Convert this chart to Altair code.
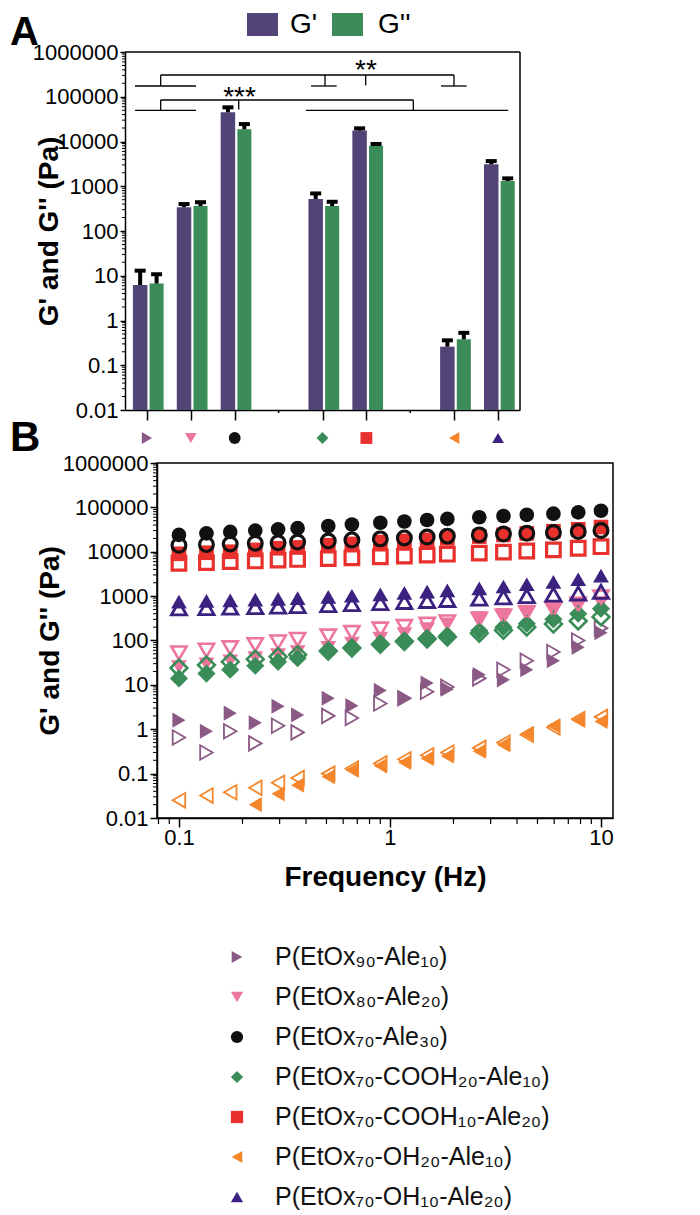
import altair as alt
import pandas as pd

# ---------------- Panel A : bar chart (Pa) ----------------
cat_pos = [0, 1, 2, 4, 5, 7, 8]
cat_shape = ["triangle-right", "triangle-down", "circle", "diamond", "square", "triangle-left", "triangle-up"]
cat_color = ["#8b5a84", "#ec769c", "#111111", "#3a8c58", "#e8302c", "#f5862b", "#3b2180"]
gp_mean = [6.2, 340, 45000, 520, 17500, 0.26, 3100]
gp_upper = [13, 400, 58000, 690, 19700, 0.36, 3650]
gpp_mean = [6.7, 360, 18700, 360, 8000, 0.38, 1310]
gpp_upper = [10.8, 440, 24500, 450, 8800, 0.53, 1500]
empty_slots = [3, 6]

# significance brackets (category units, Pa)
br_x1 = [0.313, 0.313, 4.057, 4.984, 6.996, -0.272, 3.738, 6.700, 0.313, 0.313, 2.091, 6.069, -0.272, 3.624]
br_x2 = [6.996, 0.313, 4.057, 4.984, 6.996, 1.118, 4.323, 7.285, 6.069, 0.313, 2.091, 6.069, 1.118, 8.233]
br_y1 = [3.06e5, 3.06e5, 3.06e5, 3.06e5, 3.06e5, 1.74e5, 1.74e5, 1.74e5, 8.46e4, 8.46e4, 8.46e4, 8.46e4, 4.98e4, 4.98e4]
br_y2 = [3.06e5, 1.74e5, 1.74e5, 1.80e5, 1.74e5, 1.74e5, 1.74e5, 1.74e5, 8.46e4, 4.98e4, 5.2e4, 4.98e4, 4.98e4, 4.98e4]
sig_text = ["**", "***"]
sig_x = [4.99, 2.11]
sig_y = [2.49e5, 6.21e4]

# ---------------- Panel B : frequency sweep ----------------
samples = ["P(EtOx₉₀-Ale₁₀)", "P(EtOx₈₀-Ale₂₀)", "P(EtOx₇₀-Ale₃₀)", "P(EtOx₇₀-COOH₂₀-Ale₁₀)",
           "P(EtOx₇₀-COOH₁₀-Ale₂₀)", "P(EtOx₇₀-OH₂₀-Ale₁₀)", "P(EtOx₇₀-OH₁₀-Ale₂₀)"]
freq = [0.1, 0.135, 0.175, 0.23, 0.295, 0.365, 0.51, 0.66, 0.9, 1.17, 1.5, 1.87, 2.65, 3.45, 4.45, 5.95, 7.8, 10.0]

gp_s1 = [1.6, 0.9, 2.3, 1.4, 3.3, 2.1, 5.0, 3.4, 7.5, 5.0, 11, 8, 17, 13, 22, 35, 70, 150]
gpp_s1 = [0.65, 0.3, 0.9, 0.48, 1.2, 0.85, 2.0, 1.8, 3.8, 5.0, 7.0, 9.0, 14, 22, 35, 55, 100, 190]
gp_s2 = [25, 29, 34, 40, 47, 55, 68, 85, 110, 140, 180, 230, 320, 380, 450, 520, 600, 700]
gpp_s2 = [52, 60, 68, 80, 92, 105, 125, 150, 180, 205, 230, 260, 300, 350, 420, 500, 650, 950]
gp_s3 = [24000, 26000, 28000, 30000, 32000, 34000, 38000, 41000, 45000, 48000, 52000, 55000, 60000, 64000, 68000, 72000, 77000, 84000]
gpp_s3 = [14000, 14500, 15000, 15500, 16000, 16500, 17500, 18500, 19500, 20500, 21500, 22500, 24000, 25000, 26000, 27000, 28500, 30000]
gp_s4 = [14, 18, 22, 27, 33, 40, 55, 68, 85, 100, 115, 130, 165, 200, 240, 300, 400, 520]
gpp_s4 = [24, 28, 33, 38, 43, 48, 58, 68, 82, 95, 108, 120, 145, 170, 200, 235, 275, 340]
gp_s5 = [9000, 9500, 10000, 11000, 12000, 12500, 14000, 15000, 16500, 17500, 18500, 20000, 22000, 24000, 26000, 29000, 32000, 36000]
gpp_s5 = [5500, 5700, 6000, 6200, 6500, 6700, 7000, 7300, 7700, 8000, 8400, 8800, 9300, 9800, 10400, 11000, 12000, 13000]
gp_s6 = [None, None, None, 0.02, 0.035, 0.055, 0.085, 0.12, 0.15, 0.18, 0.22, 0.25, 0.32, 0.45, 0.8, 1.2, 1.6, 1.5]
gpp_s6 = [0.025, 0.032, 0.038, 0.048, 0.062, 0.08, 0.1, 0.13, 0.17, 0.21, 0.26, 0.3, 0.38, 0.5, 0.75, 1.1, 1.7, 1.9]
gp_s7 = [750, 780, 800, 830, 870, 900, 960, 1020, 1100, 1180, 1260, 1350, 1500, 1650, 1850, 2100, 2400, 2900]
gpp_s7 = [530, 540, 550, 565, 580, 600, 630, 660, 700, 740, 780, 820, 880, 940, 1000, 1080, 1150, 1250]

decades = [0.01, 0.1, 1, 10, 100, 1000, 10000, 100000, 1000000]
freq_labels = [0.1, 1, 10]

# ---------------- styles / layout ----------------
PURPLE, GREEN = "#524477", "#3b8c58"
FONT = "Liberation Sans"
SHIFT = 32                    # panel A starts this many px left of panel B
TOP_W, TOP_H = 395, 358
BOT_W, BOT_H = 456, 355
size_map = {"triangle-right": 230, "triangle-down": 250, "circle": 215, "diamond": 330,
            "square": 215, "triangle-left": 230, "triangle-up": 250}
open_size_map = {"triangle-right": 210, "triangle-down": 230, "circle": 190, "diamond": 280,
                 "square": 185, "triangle-left": 210, "triangle-up": 230}
open_sw_map = {"triangle-right": 1.8, "triangle-down": 2.6, "circle": 3.2, "diamond": 2.6,
               "square": 3.2, "triangle-left": 1.8, "triangle-up": 2.8}

# ---------------- Panel A ----------------
rows = []
for i, p in enumerate(cat_pos):
    rows.append({"type": "G'", "x1": p - 0.32, "x2": p + 0.01, "xc": p - 0.155, "val": gp_mean[i], "up": gp_upper[i]})
    rows.append({"type": "G''", "x1": p + 0.06, "x2": p + 0.38, "xc": p + 0.22, "val": gpp_mean[i], "up": gpp_upper[i]})
bars_df = pd.DataFrame(rows)
cats_df = pd.DataFrame({"pos": cat_pos, "shape": cat_shape, "color": cat_color})
br_df = pd.DataFrame({"x1": br_x1, "x2": br_x2, "y1": br_y1, "y2": br_y2})
sig_df = pd.DataFrame({"x": sig_x, "y": sig_y, "t": sig_text})
minor_top = pd.DataFrame({"v": [m * 10.0 ** d for d in range(-2, 6) for m in range(2, 10)]})
empty_df = pd.DataFrame({"pos": empty_slots})
one = pd.DataFrame({"a": [0]})

L = -SHIFT
R = TOP_W - SHIFT
xA = alt.Scale(domain=[-0.5, 8.5], range=[L, R], nice=False, zero=False)
yA = alt.Scale(type="log", domain=[0.01, 1e6], nice=False)
axXA = alt.Axis(values=cat_pos, labels=False, title=None, tickSize=10)
axYA = alt.Axis(values=decades, format="~f", title="G' and G'' (Pa)", titleX=-62, tickSize=5,
                labelPadding=2, offset=SHIFT)

bars = alt.Chart(bars_df).mark_bar().encode(
    x=alt.X("x1:Q", scale=xA, axis=axXA),
    x2="x2:Q",
    y=alt.Y("val:Q", scale=yA, axis=axYA),
    y2=alt.datum(0.01),
    color=alt.Color("type:N", scale=alt.Scale(domain=["G'", "G''"], range=[PURPLE, GREEN]), legend=None),
)
err = alt.Chart(bars_df).mark_rule(color="black", strokeWidth=4).encode(
    x=alt.X("xc:Q", scale=xA, axis=axXA), y=alt.Y("val:Q", scale=yA, axis=axYA), y2="up:Q")
caps = alt.Chart(bars_df).mark_tick(color="black", orient="horizontal", size=11, thickness=4, opacity=1).encode(
    x=alt.X("xc:Q", scale=xA, axis=axXA), y=alt.Y("up:Q", scale=yA, axis=axYA))
short_ticks = alt.Chart(empty_df).mark_rule(color="black", strokeWidth=1.5).encode(
    x=alt.X("pos:Q", scale=xA, axis=axXA), y=alt.value(TOP_H), y2=alt.value(TOP_H + 3))
yminA = alt.Chart(minor_top).mark_rule(color="black", strokeWidth=1).encode(
    y=alt.Y("v:Q", scale=yA, axis=axYA), x=alt.value(L - 3), x2=alt.value(L))
frame_top = alt.Chart(one).mark_rule(color="black", strokeWidth=1.5).encode(
    x=alt.value(L), x2=alt.value(R), y=alt.value(0))
frame_right = alt.Chart(one).mark_rule(color="black", strokeWidth=1.5).encode(
    x=alt.value(R), y=alt.value(0), y2=alt.value(TOP_H))
marker_row = alt.Chart(cats_df).mark_point(filled=True, opacity=1, size=140).encode(
    x=alt.X("pos:Q", scale=xA, axis=axXA), y=alt.value(TOP_H + 28),
    shape=alt.Shape("shape:N", scale=None), color=alt.Color("color:N", scale=None))
brackets = alt.Chart(br_df).mark_rule(color="black", strokeWidth=1.3).encode(
    x=alt.X("x1:Q", scale=xA, axis=axXA), x2="x2:Q", y=alt.Y("y1:Q", scale=yA, axis=axYA), y2="y2:Q")
sig = alt.Chart(sig_df).mark_text(font=FONT, fontSize=28, baseline="alphabetic", color="black").encode(
    x=alt.X("x:Q", scale=xA, axis=axXA), y=alt.Y("y:Q", scale=yA, axis=axYA), text="t:N")
# invisible layout anchor: fixes the panel's top-left extent
anchor = alt.Chart(one).mark_rule(strokeOpacity=0, strokeWidth=0.1).encode(
    x=alt.value(L - 117), y=alt.value(-44), y2=alt.value(-43))
labA = alt.Chart(one).mark_text(text="A", font=FONT, fontSize=40, fontWeight="bold", align="left", baseline="top", color="black").encode(
    x=alt.value(L - 115), y=alt.value(-39))
labB = alt.Chart(one).mark_text(text="B", font=FONT, fontSize=42, fontWeight="bold", align="left", baseline="top", color="black").encode(
    x=alt.value(L - 115), y=alt.value(366))
sw1 = alt.Chart(one).mark_rect(color=PURPLE).encode(x=alt.value(L + 122), x2=alt.value(L + 153), y=alt.value(-39), y2=alt.value(-16))
sw2 = alt.Chart(one).mark_rect(color=GREEN).encode(x=alt.value(L + 207), x2=alt.value(L + 238), y=alt.value(-39), y2=alt.value(-16))
lt1 = alt.Chart(one).mark_text(text="G'", font=FONT, fontSize=28, align="left", baseline="middle", color="black").encode(
    x=alt.value(L + 165), y=alt.value(-27))
lt2 = alt.Chart(one).mark_text(text="G''", font=FONT, fontSize=28, align="left", baseline="middle", color="black").encode(
    x=alt.value(L + 253), y=alt.value(-27))

top = alt.layer(bars, err, caps, short_ticks, yminA, frame_top, frame_right, marker_row, brackets, sig,
                anchor, labA, labB, sw1, sw2, lt1, lt2).properties(
    width=R, height=TOP_H, view=alt.ViewBackground(stroke=None))

# ---------------- Panel B ----------------
gp_all = [gp_s1, gp_s2, gp_s3, gp_s4, gp_s5, gp_s6, gp_s7]
gpp_all = [gpp_s1, gpp_s2, gpp_s3, gpp_s4, gpp_s5, gpp_s6, gpp_s7]
prow = []
for s in range(7):
    for kind, series in (("G'", gp_all[s]), ("G''", gpp_all[s])):
        for f, v in zip(freq, series):
            if v is None:
                continue
            sh = cat_shape[s]
            prow.append({"sample": samples[s], "kind": kind, "f": f, "v": v, "shape": sh, "color": cat_color[s],
                         "size": size_map[sh] if kind == "G'" else open_size_map[sh], "sw": open_sw_map[sh]})
pts = pd.DataFrame(prow)
draw_order = [0, 1, 3, 4, 2, 5, 6]
pts["ord"] = pts["sample"].map({samples[s]: k for k, s in enumerate(draw_order)})
pts = pts.sort_values(["ord", "f"])

xB = alt.Scale(type="log", domain=[0.0787, 11.4], nice=False)
yB = alt.Scale(type="log", domain=[0.01, 1e6], nice=False)
axXB = alt.Axis(values=freq_labels, format="~f", title="Frequency (Hz)", tickSize=9, labelPadding=0, titlePadding=15)
axYB = alt.Axis(values=decades, format="~f", title="G' and G'' (Pa)", titleX=-93, tickSize=7, labelPadding=2)

filled_pts = alt.Chart(pts[pts.kind == "G'"]).mark_point(filled=True, opacity=1).encode(
    x=alt.X("f:Q", scale=xB, axis=axXB),
    y=alt.Y("v:Q", scale=yB, axis=axYB),
    shape=alt.Shape("shape:N", scale=None), color=alt.Color("color:N", scale=None),
    size=alt.Size("size:Q", scale=None))
open_pts = alt.Chart(pts[pts.kind == "G''"]).mark_point(filled=False, opacity=1).encode(
    x=alt.X("f:Q", scale=xB, axis=axXB), y=alt.Y("v:Q", scale=yB, axis=axYB),
    shape=alt.Shape("shape:N", scale=None), color=alt.Color("color:N", scale=None),
    size=alt.Size("size:Q", scale=None), strokeWidth=alt.StrokeWidth("sw:Q", scale=None))
minor_x = pd.DataFrame({"f": [m * 10.0 ** d for d in range(-2, 2) for m in range(2, 10) if 0.0787 <= m * 10.0 ** d <= 11.4]})
xminB = alt.Chart(minor_x).mark_rule(color="black", strokeWidth=1.2).encode(
    x=alt.X("f:Q", scale=xB, axis=axXB), y=alt.value(BOT_H), y2=alt.value(BOT_H + 6))
yminB = alt.Chart(minor_top).mark_rule(color="black", strokeWidth=1).encode(
    y=alt.Y("v:Q", scale=yB, axis=axYB), x=alt.value(-4), x2=alt.value(0))

bottom = alt.layer(filled_pts, open_pts, xminB, yminB).properties(width=BOT_W, height=BOT_H)

# ---------------- legend ----------------
leg_df = pd.DataFrame({"idx": list(range(7)), "label": samples, "shape": cat_shape, "color": cat_color})
leg_pts = alt.Chart(leg_df).mark_point(filled=True, opacity=1, size=150).encode(
    x=alt.value(80), y=alt.Y("idx:O", axis=None),
    shape=alt.Shape("shape:N", scale=None), color=alt.Color("color:N", scale=None))
leg_txt = alt.Chart(leg_df).mark_text(font=FONT, fontSize=25, align="left", baseline="middle", color="#111111").encode(
    x=alt.value(118), y=alt.Y("idx:O", axis=None), text="label:N")
legend = alt.layer(leg_pts, leg_txt).properties(width=400, height=280, view=alt.ViewBackground(stroke=None))

chart = alt.vconcat(alt.vconcat(top, bottom, spacing=-8), legend, spacing=45).properties(
    padding={"left": 0, "top": 0, "right": 0, "bottom": 0}
).configure_view(stroke="black", strokeWidth=1.5).configure_axis(
    grid=False, labelColor="black", titleColor="black", domainColor="black", tickColor="black",
    domainWidth=1.5, tickWidth=1.5, labelFont=FONT, labelFontSize=22, titleFont=FONT,
    titleFontSize=28, titleFontWeight="bold", labelOverlap=False)

chart.save("out.html", embed_options={"renderer": "svg", "actions": False})
